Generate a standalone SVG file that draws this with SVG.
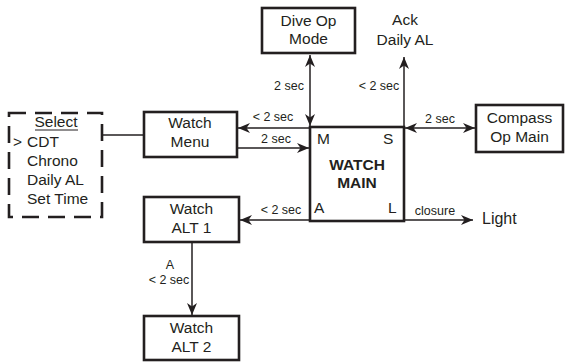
<svg xmlns="http://www.w3.org/2000/svg" width="566" height="362" viewBox="0 0 566 362">
<style>
.box{fill:#fff;stroke:#231f20;stroke-width:2.6}
.dash{fill:#fff;stroke:#231f20;stroke-width:2.6;stroke-dasharray:17 9}
.t{font-family:"Liberation Sans",Arial,sans-serif;font-size:15.5px;fill:#231f20;text-anchor:middle}
.tl{font-family:"Liberation Sans",Arial,sans-serif;font-size:15.5px;fill:#231f20}
.b{font-family:"Liberation Sans",Arial,sans-serif;font-size:15.5px;font-weight:bold;fill:#231f20;text-anchor:middle}
.s{font-family:"Liberation Sans",Arial,sans-serif;font-size:12.5px;fill:#231f20;text-anchor:middle}
.c{stroke:#231f20;stroke-width:1.5;fill:none}
</style>
<defs>
<marker id="ah" viewBox="0 0 12 10" refX="12" refY="5" markerWidth="12" markerHeight="10" markerUnits="userSpaceOnUse" orient="auto-start-reverse">
<path d="M0,0 L12,5 L0,10 L3.5,5 z" fill="#231f20"/>
</marker>
</defs>
<g id="connectors">
<line class="c" x1="103" y1="135" x2="143" y2="135"/>
<line class="c" x1="310" y1="128" x2="238" y2="128" marker-end="url(#ah)"/>
<line class="c" x1="237" y1="148" x2="309" y2="148" marker-end="url(#ah)"/>
<line class="c" x1="310" y1="220" x2="240" y2="220" marker-end="url(#ah)"/>
<line class="c" x1="310" y1="55" x2="310" y2="126" marker-start="url(#ah)" marker-end="url(#ah)"/>
<line class="c" x1="404" y1="127" x2="404" y2="57" marker-end="url(#ah)"/>
<line class="c" x1="405" y1="128" x2="475" y2="128" marker-start="url(#ah)" marker-end="url(#ah)"/>
<line class="c" x1="404" y1="220" x2="473" y2="220" marker-end="url(#ah)"/>
<line class="c" x1="192" y1="242" x2="192" y2="315" marker-end="url(#ah)"/>
<text class="s" x="273" y="121">&lt; 2 sec</text>
<text class="s" x="276" y="143">2 sec</text>
<text class="s" x="281" y="214">&lt; 2 sec</text>
<text class="s" x="289" y="90">2 sec</text>
<text class="s" x="379" y="90">&lt; 2 sec</text>
<text class="s" x="440" y="123">2 sec</text>
<text class="s" x="435" y="215">closure</text>
<text class="s" x="170" y="269">A</text>
<text class="s" x="169" y="284">&lt; 2 sec</text>
</g>
<g id="select">
<rect class="dash" x="9" y="113" width="93" height="104"/>
<text class="t" x="56" y="127">Select</text>
<line x1="35" y1="130" x2="78" y2="130" stroke="#231f20" stroke-width="1"/>
<text class="tl" x="13" y="147">&gt;</text>
<text class="tl" x="27" y="147">CDT</text>
<text class="tl" x="27" y="166">Chrono</text>
<text class="tl" x="27" y="185">Daily AL</text>
<text class="tl" x="27" y="204">Set Time</text>
</g>
<g id="watch-menu">
<rect class="box" x="144" y="112" width="93" height="45"/>
<text class="t" x="190" y="128">Watch</text>
<text class="t" x="190" y="147">Menu</text>
</g>
<g id="watch-main">
<rect class="box" x="310" y="127" width="94" height="94"/>
<text class="tl" x="317" y="144">M</text>
<text class="tl" x="383" y="144">S</text>
<text class="tl" x="314" y="213">A</text>
<text class="tl" x="388" y="213">L</text>
<text class="b" x="357" y="170">WATCH</text>
<text class="b" x="357" y="188">MAIN</text>
</g>
<g id="dive-op-mode">
<rect class="box" x="262" y="8" width="93" height="45"/>
<text class="t" x="308.5" y="26">Dive Op</text>
<text class="t" x="308.5" y="44">Mode</text>
</g>
<g id="ack-daily-al">
<text class="t" x="405" y="25">Ack</text>
<text class="t" x="405" y="45">Daily AL</text>
</g>
<g id="compass-op-main">
<rect class="box" x="476" y="105" width="87" height="47"/>
<text class="t" x="519.5" y="123">Compass</text>
<text class="t" x="519.5" y="142">Op Main</text>
</g>
<g id="light">
<text class="tl" x="482" y="224" style="font-size:16px">Light</text>
</g>
<g id="watch-alt-1">
<rect class="box" x="144" y="197" width="95" height="45"/>
<text class="t" x="191.5" y="214">Watch</text>
<text class="t" x="191.5" y="233">ALT 1</text>
</g>
<g id="watch-alt-2">
<rect class="box" x="144" y="316" width="95" height="44"/>
<text class="t" x="191.5" y="333">Watch</text>
<text class="t" x="191.5" y="352">ALT 2</text>
</g>
</svg>
